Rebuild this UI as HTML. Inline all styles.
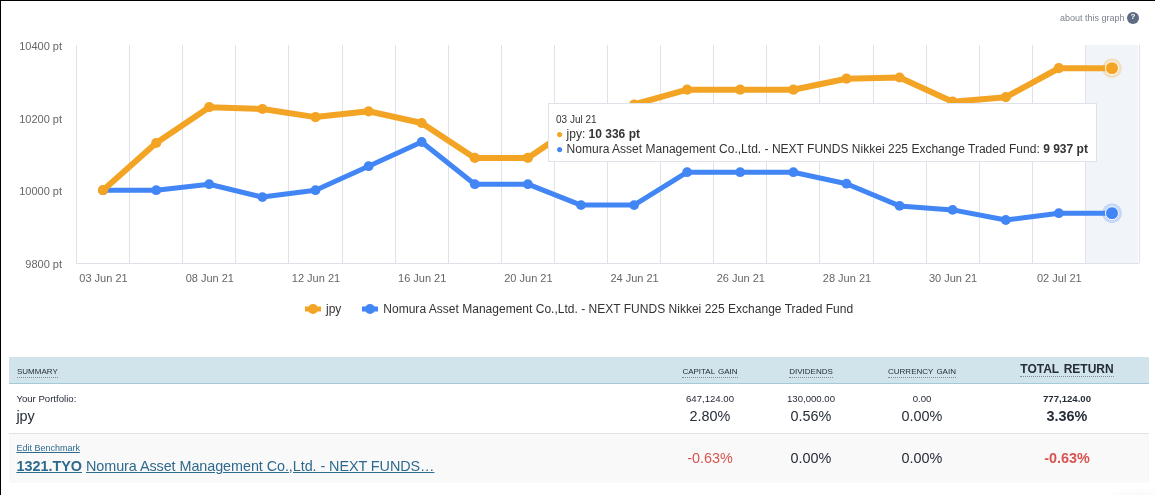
<!DOCTYPE html>
<html lang="en"><head><meta charset="utf-8"><title>Benchmark</title>
<style>
html,body{margin:0;padding:0;background:#fff;}
body{width:1155px;height:495px;overflow:hidden;position:relative;font-family:"Liberation Sans",sans-serif;color:#333;}
.frame-t{position:absolute;left:0;top:0;width:1155px;height:1px;background:#000;}
.frame-l{position:absolute;left:0;top:0;width:1px;height:495px;background:#000;}
.chart{position:absolute;left:0;top:0;}
.ax{font-size:11px;fill:#666;font-family:"Liberation Sans",sans-serif;}
.lg{font-size:12px;fill:#333;font-family:"Liberation Sans",sans-serif;}
.tt{font-size:12px;fill:#333;font-family:"Liberation Sans",sans-serif;}
.about{position:absolute;left:1060px;top:12px;font-size:9px;color:#7c828d;white-space:nowrap;line-height:12px;}
.q{position:absolute;left:1127px;top:12px;width:12px;height:12px;border-radius:6px;background:#5d6b83;color:#fff;font-size:8px;font-weight:bold;line-height:9px;text-align:center;}
table.sum{position:absolute;left:9px;top:357px;width:1140px;border-collapse:collapse;table-layout:fixed;font-size:12px;}
table.sum th{background:#d1e4eb;height:26px;padding:0;border-bottom:1px solid #a5c8d6;font-weight:normal;font-size:8px;line-height:10px;color:#262c38;text-align:center;vertical-align:top;white-space:nowrap;}
table.sum th span{display:inline-block;margin-top:10px;padding-bottom:0;border-bottom:1px dotted #7d8a92;word-spacing:0.95px;}
table.sum th.first{text-align:left;padding-left:8px;}
table.sum th.tot{font-size:12px;font-weight:bold;}
table.sum th.tot span{margin-top:6px;line-height:13px;padding-bottom:0;word-spacing:1.4px;}
table.sum td{padding:0;text-align:center;vertical-align:top;white-space:nowrap;}
table.sum tr.r1 td{height:49px;border-bottom:1px solid #dfe3e8;}
table.sum tr.r2 td{height:49px;background:#f9f9f9;}
table.sum td.first{text-align:left;padding-left:7.4px;}
.sm{font-size:9.6px;line-height:12px;margin-top:9px;color:#262c38;}
.bg{font-size:14.4px;line-height:18px;margin-top:2px;color:#262c38;}
.b{font-weight:bold;}
.neg{color:#d9534f;}
a{color:#2e6a8e;text-decoration:underline;}
</style></head><body>
<svg class="chart" width="1155" height="340" viewBox="0 0 1155 340">
<rect x="1085.4" y="45.0" width="52.6" height="218.0" fill="#f1f5fa"/>
<path d="M76.5 45.0 V263.0" stroke="#dfe3e9" stroke-width="1"/>
<path d="M129.5 45.0 V263.0" stroke="#dfe3e9" stroke-width="1"/>
<path d="M182.5 45.0 V263.0" stroke="#dfe3e9" stroke-width="1"/>
<path d="M235.5 45.0 V263.0" stroke="#dfe3e9" stroke-width="1"/>
<path d="M288.5 45.0 V263.0" stroke="#dfe3e9" stroke-width="1"/>
<path d="M342.5 45.0 V263.0" stroke="#dfe3e9" stroke-width="1"/>
<path d="M395.5 45.0 V263.0" stroke="#dfe3e9" stroke-width="1"/>
<path d="M448.5 45.0 V263.0" stroke="#dfe3e9" stroke-width="1"/>
<path d="M501.5 45.0 V263.0" stroke="#dfe3e9" stroke-width="1"/>
<path d="M554.5 45.0 V263.0" stroke="#dfe3e9" stroke-width="1"/>
<path d="M607.5 45.0 V263.0" stroke="#dfe3e9" stroke-width="1"/>
<path d="M660.5 45.0 V263.0" stroke="#dfe3e9" stroke-width="1"/>
<path d="M713.5 45.0 V263.0" stroke="#dfe3e9" stroke-width="1"/>
<path d="M766.5 45.0 V263.0" stroke="#dfe3e9" stroke-width="1"/>
<path d="M819.5 45.0 V263.0" stroke="#dfe3e9" stroke-width="1"/>
<path d="M873.5 45.0 V263.0" stroke="#dfe3e9" stroke-width="1"/>
<path d="M926.5 45.0 V263.0" stroke="#dfe3e9" stroke-width="1"/>
<path d="M979.5 45.0 V263.0" stroke="#dfe3e9" stroke-width="1"/>
<path d="M1032.5 45.0 V263.0" stroke="#dfe3e9" stroke-width="1"/>
<path d="M1085.5 45.0 V263.0" stroke="#dfe3e9" stroke-width="1"/>
<path d="M1139.5 45.0 V263.0" stroke="#dfe3e9" stroke-width="1"/>
<path d="M76.0 263.5 H1139.0" stroke="#dde2e8" stroke-width="1"/>
<path d="M103.05 190.20 L156.15 190.20 L209.25 184.20 L262.35 197.10 L315.45 190.20 L368.55 166.20 L421.65 142.00 L474.75 184.20 L527.85 184.20 L580.95 205.10 L634.05 205.10 L687.15 172.20 L740.25 172.20 L793.35 172.20 L846.45 183.70 L899.55 205.90 L952.65 209.90 L1005.75 220.00 L1058.85 213.20 L1111.95 213.20" fill="none" stroke="#4285f4" stroke-width="5" stroke-linejoin="round" stroke-linecap="round"/>
<circle cx="103.0" cy="190.2" r="4.9" fill="#4285f4"/>
<circle cx="156.2" cy="190.2" r="4.9" fill="#4285f4"/>
<circle cx="209.2" cy="184.2" r="4.9" fill="#4285f4"/>
<circle cx="262.4" cy="197.1" r="4.9" fill="#4285f4"/>
<circle cx="315.5" cy="190.2" r="4.9" fill="#4285f4"/>
<circle cx="368.6" cy="166.2" r="4.9" fill="#4285f4"/>
<circle cx="421.7" cy="142.0" r="4.9" fill="#4285f4"/>
<circle cx="474.8" cy="184.2" r="4.9" fill="#4285f4"/>
<circle cx="527.9" cy="184.2" r="4.9" fill="#4285f4"/>
<circle cx="581.0" cy="205.1" r="4.9" fill="#4285f4"/>
<circle cx="634.1" cy="205.1" r="4.9" fill="#4285f4"/>
<circle cx="687.1" cy="172.2" r="4.9" fill="#4285f4"/>
<circle cx="740.2" cy="172.2" r="4.9" fill="#4285f4"/>
<circle cx="793.4" cy="172.2" r="4.9" fill="#4285f4"/>
<circle cx="846.5" cy="183.7" r="4.9" fill="#4285f4"/>
<circle cx="899.6" cy="205.9" r="4.9" fill="#4285f4"/>
<circle cx="952.6" cy="209.9" r="4.9" fill="#4285f4"/>
<circle cx="1005.8" cy="220.0" r="4.9" fill="#4285f4"/>
<circle cx="1058.8" cy="213.2" r="4.9" fill="#4285f4"/>
<path d="M103.05 190.20 L156.15 143.00 L209.25 107.20 L262.35 109.00 L315.45 117.10 L368.55 111.30 L421.65 123.00 L474.75 157.90 L527.85 157.90 L580.95 122.00 L634.05 104.50 L687.15 89.70 L740.25 89.70 L793.35 89.70 L846.45 78.70 L899.55 77.50 L952.65 101.70 L1005.75 97.20 L1058.85 68.25 L1111.95 68.25" fill="none" stroke="#f4a425" stroke-width="6" stroke-linejoin="round" stroke-linecap="round"/>
<circle cx="103.0" cy="190.2" r="5.1" fill="#f4a425"/>
<circle cx="156.2" cy="143.0" r="5.1" fill="#f4a425"/>
<circle cx="209.2" cy="107.2" r="5.1" fill="#f4a425"/>
<circle cx="262.4" cy="109.0" r="5.1" fill="#f4a425"/>
<circle cx="315.5" cy="117.1" r="5.1" fill="#f4a425"/>
<circle cx="368.6" cy="111.3" r="5.1" fill="#f4a425"/>
<circle cx="421.7" cy="123.0" r="5.1" fill="#f4a425"/>
<circle cx="474.8" cy="157.9" r="5.1" fill="#f4a425"/>
<circle cx="527.9" cy="157.9" r="5.1" fill="#f4a425"/>
<circle cx="581.0" cy="122.0" r="5.1" fill="#f4a425"/>
<circle cx="634.1" cy="104.5" r="5.1" fill="#f4a425"/>
<circle cx="687.1" cy="89.7" r="5.1" fill="#f4a425"/>
<circle cx="740.2" cy="89.7" r="5.1" fill="#f4a425"/>
<circle cx="793.4" cy="89.7" r="5.1" fill="#f4a425"/>
<circle cx="846.5" cy="78.7" r="5.1" fill="#f4a425"/>
<circle cx="899.6" cy="77.5" r="5.1" fill="#f4a425"/>
<circle cx="952.6" cy="101.7" r="5.1" fill="#f4a425"/>
<circle cx="1005.8" cy="97.2" r="5.1" fill="#f4a425"/>
<circle cx="1058.8" cy="68.2" r="5.1" fill="#f4a425"/>
<circle cx="1112.0" cy="68.2" r="10" fill="#f4a425" fill-opacity="0.25"/>
<circle cx="1112.0" cy="68.2" r="6.5" fill="#f4a425" stroke="#fff" stroke-width="1"/>
<circle cx="1112.0" cy="213.2" r="10" fill="#4285f4" fill-opacity="0.25"/>
<circle cx="1112.0" cy="213.2" r="6.5" fill="#4285f4" stroke="#fff" stroke-width="1"/>
<text x="62" y="49.5" text-anchor="end" class="ax">10400 pt</text>
<text x="62" y="123.1" text-anchor="end" class="ax">10200 pt</text>
<text x="62" y="194.8" text-anchor="end" class="ax">10000 pt</text>
<text x="62" y="267.5" text-anchor="end" class="ax">9800 pt</text>
<text x="103.5" y="282" text-anchor="middle" class="ax">03 Jun 21</text>
<text x="209.8" y="282" text-anchor="middle" class="ax">08 Jun 21</text>
<text x="316.0" y="282" text-anchor="middle" class="ax">12 Jun 21</text>
<text x="422.2" y="282" text-anchor="middle" class="ax">16 Jun 21</text>
<text x="528.4" y="282" text-anchor="middle" class="ax">20 Jun 21</text>
<text x="634.6" y="282" text-anchor="middle" class="ax">24 Jun 21</text>
<text x="740.8" y="282" text-anchor="middle" class="ax">26 Jun 21</text>
<text x="847.0" y="282" text-anchor="middle" class="ax">28 Jun 21</text>
<text x="953.1" y="282" text-anchor="middle" class="ax">30 Jun 21</text>
<text x="1059.3" y="282" text-anchor="middle" class="ax">02 Jul 21</text>
<path d="M305 309 H321" stroke="#f4a425" stroke-width="5"/><circle cx="313" cy="309" r="5" fill="#f4a425"/>
<text x="326" y="313" class="lg">jpy</text>
<path d="M362 309 H378" stroke="#4285f4" stroke-width="5"/><circle cx="370" cy="309" r="5" fill="#4285f4"/>
<text x="383.3" y="313" class="lg" style="letter-spacing:0.015px">Nomura Asset Management Co.,Ltd. - NEXT FUNDS Nikkei 225 Exchange Traded Fund</text>
<rect x="548.5" y="103.5" width="548" height="58" fill="#fff" stroke="#dfe3e9" stroke-width="1"/>
<text x="556" y="123" class="tt" style="font-size:10px">03 Jul 21</text>
<text x="556" y="138" class="tt"><tspan fill="#f4a425">●</tspan> jpy: <tspan font-weight="bold">10 336 pt</tspan></text>
<text x="556" y="153" class="tt" style="letter-spacing:0.015px"><tspan fill="#4285f4">●</tspan> Nomura Asset Management Co.,Ltd. - NEXT FUNDS Nikkei 225 Exchange Traded Fund: <tspan font-weight="bold">9 937 pt</tspan></text>
</svg>
<div class="about">about this graph</div><div class="q">?</div>
<table class="sum">
<colgroup><col style="width:648px"><col style="width:106px"><col style="width:96px"><col style="width:126px"><col style="width:164px"></colgroup>
<tr><th class="first"><span>SUMMARY</span></th><th><span>CAPITAL GAIN</span></th><th><span>DIVIDENDS</span></th><th><span>CURRENCY GAIN</span></th><th class="tot"><span>TOTAL RETURN</span></th></tr>
<tr class="r1"><td class="first"><div class="sm">Your Portfolio:</div><div class="bg">jpy</div></td>
<td><div class="sm">647,124.00</div><div class="bg">2.80%</div></td>
<td><div class="sm">130,000.00</div><div class="bg">0.56%</div></td>
<td><div class="sm">0.00</div><div class="bg">0.00%</div></td>
<td><div class="sm b">777,124.00</div><div class="bg b">3.36%</div></td></tr>
<tr class="r2"><td class="first"><div class="sm" style="font-size:9px;margin-top:8px;margin-bottom:3px"><a>Edit Benchmark</a></div><div class="bg"><a><b>1321.TYO</b></a> <a style="letter-spacing:-0.07px">Nomura Asset Management Co.,Ltd. - NEXT FUNDS…</a></div></td>
<td><div class="bg neg" style="margin-top:15px">-0.63%</div></td>
<td><div class="bg" style="margin-top:15px">0.00%</div></td>
<td><div class="bg" style="margin-top:15px">0.00%</div></td>
<td><div class="bg b neg" style="margin-top:15px">-0.63%</div></td></tr>
</table>
<div style="position:absolute;left:1095px;top:485px;width:60px;height:10px;background:radial-gradient(ellipse 34px 9px at 42px 12px,rgba(0,0,0,0.03),rgba(0,0,0,0) 100%);"></div>
<div class="frame-t"></div><div class="frame-l"></div>
</body></html>
